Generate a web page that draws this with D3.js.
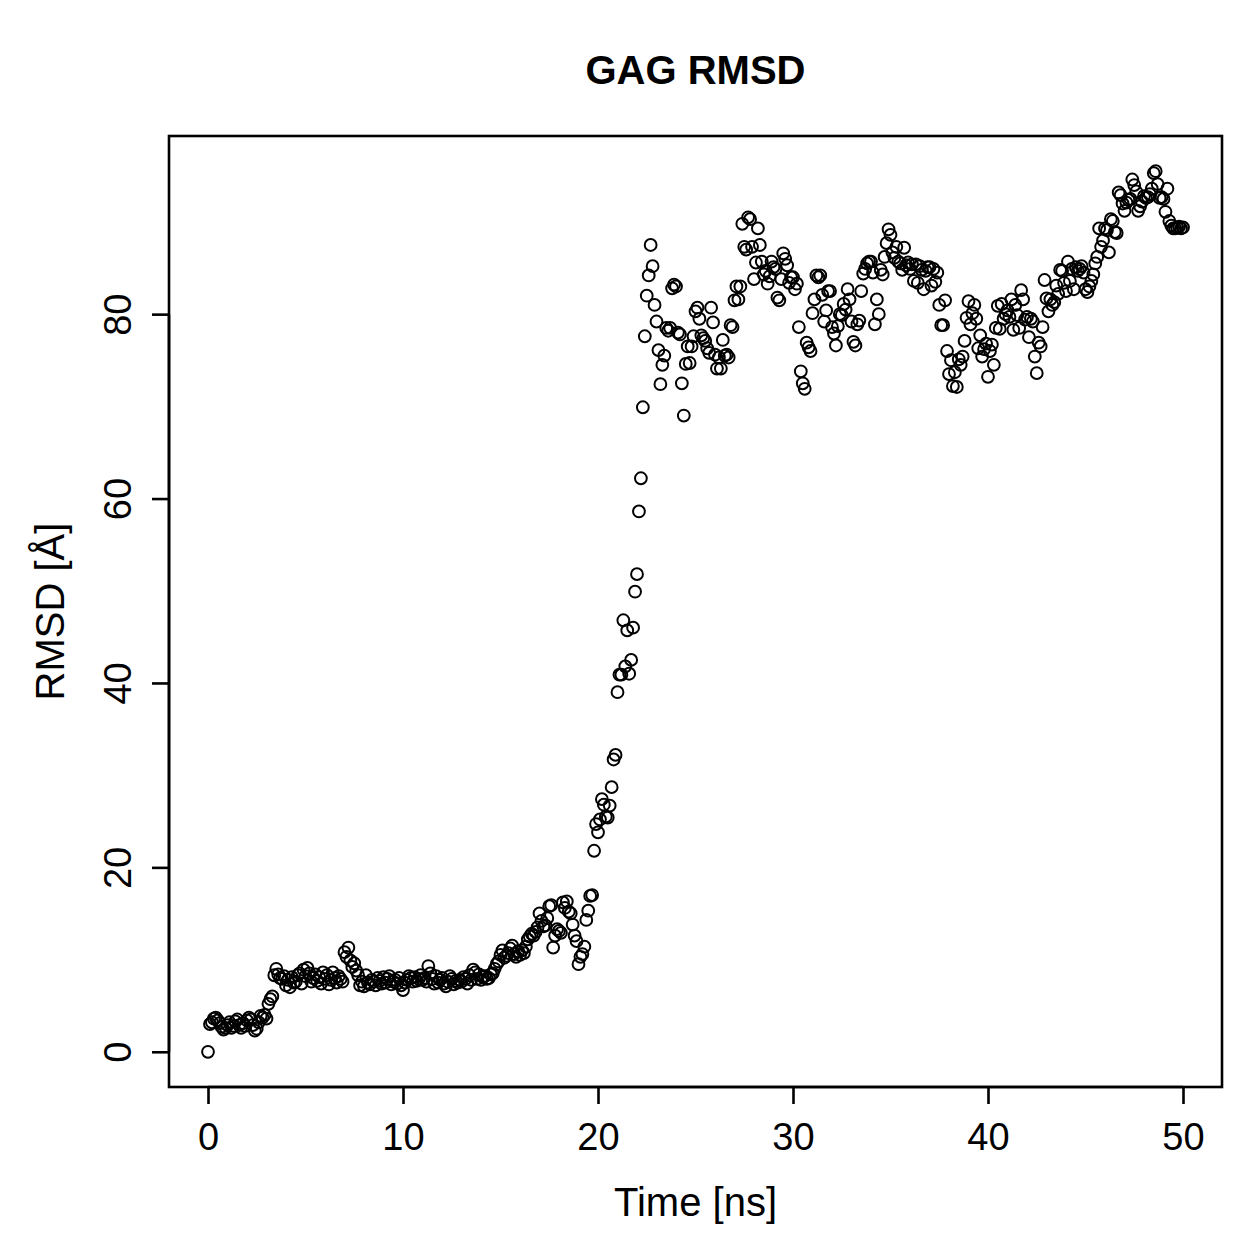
<!DOCTYPE html>
<html>
<head>
<meta charset="utf-8">
<script src="https://cdn.jsdelivr.net/npm/d3@7"></script>
<style>
  body { margin: 0; background: #fff; }
  text { font-family: "Liberation Sans", Arial, Helvetica, sans-serif; fill: #000; }
</style>
</head>
<body>
<div id="chart"></div>
<script>
// RMSD [Å], one frame every 0.1 ns, one row per ns
var rmsd = [
  0.0, 3.0, 3.2, 3.6, 3.7, 3.4, 3.1, 2.7, 2.4, 2.6,
  2.9, 3.2, 2.6, 2.8, 3.3, 3.5, 2.9, 2.6, 3.1, 2.8,
  3.4, 3.7, 3.5, 2.9, 2.3, 2.5, 3.2, 3.9, 3.7, 4.0,
  3.6, 5.2, 5.7, 6.0, 8.3, 9.0, 8.4, 8.0, 7.9, 8.2,
  7.2, 7.8, 7.0, 8.1, 7.5, 7.6, 8.3, 8.5, 7.4, 8.9,
  8.2, 9.1, 8.5, 7.6, 8.0, 8.4, 7.7, 8.1, 7.4, 8.6,
  7.9, 8.3, 7.3, 7.8, 8.6, 8.0, 7.5, 8.2, 7.9, 7.6,
  10.8, 10.3, 11.3, 9.9, 9.2, 9.6, 8.8, 8.3, 7.2, 7.6,
  7.1, 8.3, 7.5, 7.3, 7.8, 7.6, 7.2, 8.0, 7.7, 7.4,
  8.1, 7.5, 7.9, 8.2, 7.3, 7.6, 7.8, 7.4, 8.0, 7.2,
  6.7, 7.5, 7.8, 8.2, 8.0, 7.6, 8.1, 7.7, 7.9, 8.3,
  7.8, 8.0, 7.6, 9.3, 8.5, 7.9, 7.4, 8.2, 7.5, 7.8,
  8.0, 7.4, 7.1, 7.6, 8.2, 7.9, 7.3, 7.7, 7.5, 7.8,
  7.6, 8.1, 7.9, 7.4, 8.3, 7.8, 8.9, 8.6, 7.9, 8.4,
  7.8, 8.1, 8.2, 7.9, 8.0, 8.4, 8.5, 9.0, 9.5, 9.8,
  10.5, 11.0, 10.2, 10.4, 10.7, 11.2, 11.5, 10.6, 10.3, 10.9,
  10.5, 11.0, 10.7, 11.4, 12.2, 12.5, 12.8, 12.6, 13.0, 13.5,
  15.0, 14.2, 13.6, 13.7, 14.5, 15.8, 15.9, 11.3, 12.6, 13.3,
  13.1, 12.9, 16.2, 15.6, 16.3, 15.2, 15.0, 13.8, 12.6, 12.0,
  9.5, 10.3, 10.6, 11.4, 14.3, 15.3, 16.9, 17.0, 21.8, 24.7,
  23.8, 25.2, 27.4, 26.8, 25.5, 25.4, 26.7, 28.7, 31.7, 32.2,
  39.0, 40.9, 40.9, 46.8, 41.8, 45.7, 41.0, 42.5, 46.0, 49.9,
  51.8, 58.6, 62.2, 69.9, 77.6, 82.0, 84.2, 87.5, 85.2, 81.0,
  79.2, 76.1, 72.4, 74.5, 75.5, 78.5, 78.2, 78.5, 82.8, 83.2,
  83.0, 78.0, 77.8, 72.5, 69.0, 74.6, 76.5, 74.7, 76.5, 77.6,
  80.3, 80.7, 79.5, 77.7, 77.4, 77.1, 76.3, 75.8, 80.7, 79.1,
  75.6, 74.1, 75.3, 74.1, 77.2, 75.5, 75.6, 75.3, 78.8, 78.6,
  81.5, 83.0, 81.6, 83.0, 89.8, 87.3, 87.0, 90.5, 90.3, 87.3,
  83.8, 85.6, 89.3, 87.5, 85.7, 84.3, 84.7, 83.3, 84.1, 85.7,
  85.1, 84.9, 81.8, 81.5, 83.8, 86.6, 86.0, 85.3, 83.4, 84.0,
  84.0, 82.7, 83.3, 78.6, 73.8, 72.5, 71.9, 76.9, 76.4, 76.0,
  80.1, 81.6, 84.2, 84.0, 84.2, 82.1, 79.2, 80.4, 82.5, 82.5,
  78.6, 77.9, 76.6, 78.7, 80.0, 79.9, 81.1, 80.5, 82.7, 81.6,
  79.2, 77.0, 76.6, 78.9, 79.3, 82.5, 84.4, 84.9, 85.5, 85.7,
  85.7, 84.5, 78.9, 81.6, 80.0, 84.8, 84.3, 86.2, 87.7, 89.2,
  88.6, 86.7, 86.1, 87.3, 85.7, 85.5, 84.8, 87.2, 85.3, 85.6,
  84.9, 85.4, 83.6, 85.4, 83.4, 85.2, 84.8, 82.7, 84.7, 85.1,
  85.1, 83.1, 84.9, 83.5, 84.5, 81.0, 78.8, 78.8, 81.5, 76.0,
  73.5, 75.0, 72.2, 73.7, 72.1, 75.1, 74.5, 75.4, 77.1, 79.6,
  81.4, 78.9, 80.1, 81.0, 79.5, 76.3, 77.7, 75.4, 76.2, 76.8,
  73.2, 76.0, 76.7, 74.5, 78.5, 80.9, 78.4, 81.1, 79.5, 80.0,
  80.4, 79.7, 81.6, 78.3, 81.0, 79.9, 78.5, 82.6, 81.6, 79.4,
  79.7, 77.5, 79.5, 79.2, 75.4, 73.6, 76.9, 76.5, 78.6, 83.7,
  81.7, 80.3, 81.6, 81.0, 81.3, 83.1, 82.2, 84.8, 84.7, 83.4,
  82.5, 85.7, 83.6, 84.9, 82.7, 85.1, 84.7, 84.9, 85.2, 84.5,
  82.7, 82.4, 83.0, 83.6, 84.3, 85.5, 86.2, 89.3, 87.3, 88.0,
  89.3, 89.1, 86.7, 90.3, 90.1, 88.9, 88.8, 93.2, 92.9, 92.0,
  91.2, 92.1, 92.4, 92.5, 94.6, 94.0, 93.3, 91.2, 91.7, 92.2,
  92.8, 92.6, 92.7, 93.0, 93.6, 95.3, 95.5, 94.1, 92.6, 92.7,
  92.5, 91.1, 93.6, 90.1, 89.6, 89.3, 89.3, 89.4, 89.5, 89.3,
  89.4
];
var timeStep = 0.1;           // ns between frames
var xTicks = [0, 10, 20, 30, 40, 50];
var yTicks = [0, 20, 40, 60, 80];
var title = "GAG RMSD",
    xLabel = "Time [ns]",
    yLabel = "RMSD [Å]";

var data = rmsd.map(function(v, i) { return {t: +(i * timeStep).toFixed(1), v: v}; });

var W = 1259, H = 1259;
var box = {left: 169, right: 1222, top: 136, bottom: 1087};

//////// SCALES ////////
// R style: 4% padding on each side of the data range
var xExt = d3.extent(data, function(d) { return d.t; }),
    yExt = d3.extent(data, function(d) { return d.v; });
var xPad = (xExt[1] - xExt[0]) * 0.04,
    yPad = (yExt[1] - yExt[0]) * 0.04;

var xScale = d3.scaleLinear()
    .domain([xExt[0] - xPad, xExt[1] + xPad])
    .range([box.left, box.right]);

var yScale = d3.scaleLinear()
    .domain([yExt[0] - yPad, yExt[1] + yPad])
    .range([box.bottom, box.top]);

//////// CANVAS ////////
var svg = d3.select("#chart").append("svg")
    .attr("width", W)
    .attr("height", H);

svg.append("rect")
    .attr("width", W).attr("height", H)
    .attr("fill", "#fff");

// POINTS
svg.append("g")
    .selectAll("circle")
    .data(data)
    .enter().append("circle")
        .attr("cx", function(d) { return xScale(d.t); })
        .attr("cy", function(d) { return yScale(d.v); })
        .attr("r", 5.9)
        .attr("fill", "none")
        .attr("stroke", "#000")
        .attr("stroke-width", 2);

// BOX
svg.append("rect")
    .attr("x", box.left).attr("y", box.top)
    .attr("width", box.right - box.left)
    .attr("height", box.bottom - box.top)
    .attr("fill", "none")
    .attr("stroke", "#000")
    .attr("stroke-width", 2.6);

// AXES
var xAxis = svg.append("g")
    .attr("transform", "translate(0," + box.bottom + ")")
    .call(d3.axisBottom(xScale).tickValues(xTicks).tickSize(17).tickSizeOuter(0).tickPadding(19));

var yAxis = svg.append("g")
    .attr("transform", "translate(" + box.left + ",0)")
    .call(d3.axisLeft(yScale).tickValues(yTicks).tickSize(17).tickSizeOuter(0).tickFormat(d3.format("d")));

// axis line only spans first to last tick, like R
xAxis.select(".domain")
    .attr("d", "M" + xScale(xTicks[0]) + ",0H" + xScale(xTicks[xTicks.length - 1]));
yAxis.select(".domain")
    .attr("d", "M0," + yScale(yTicks[0]) + "V" + yScale(yTicks[yTicks.length - 1]));

svg.selectAll(".domain, .tick line")
    .attr("stroke", "#000")
    .attr("stroke-width", 2.6);

xAxis.selectAll(".tick text")
    .attr("font-size", 38)
    .attr("font-family", null)
    .attr("dy", "0.71em");

// y tick labels are rotated, reading upwards
yAxis.selectAll(".tick text")
    .attr("font-size", 38)
    .attr("font-family", null)
    .attr("text-anchor", "middle")
    .attr("x", null)
    .attr("dy", null)
    .attr("transform", "translate(-38,0) rotate(-90)");

// TITLES
svg.append("text")
    .attr("x", (box.left + box.right) / 2)
    .attr("y", 84)
    .attr("text-anchor", "middle")
    .attr("font-size", 40)
    .attr("font-weight", "bold")
    .text(title);

svg.append("text")
    .attr("x", (box.left + box.right) / 2)
    .attr("y", 1216)
    .attr("text-anchor", "middle")
    .attr("font-size", 40)
    .text(xLabel);

svg.append("text")
    .attr("transform", "translate(64," + (box.top + box.bottom) / 2 + ") rotate(-90)")
    .attr("text-anchor", "middle")
    .attr("font-size", 40)
    .text(yLabel);
</script>
</body>
</html>
